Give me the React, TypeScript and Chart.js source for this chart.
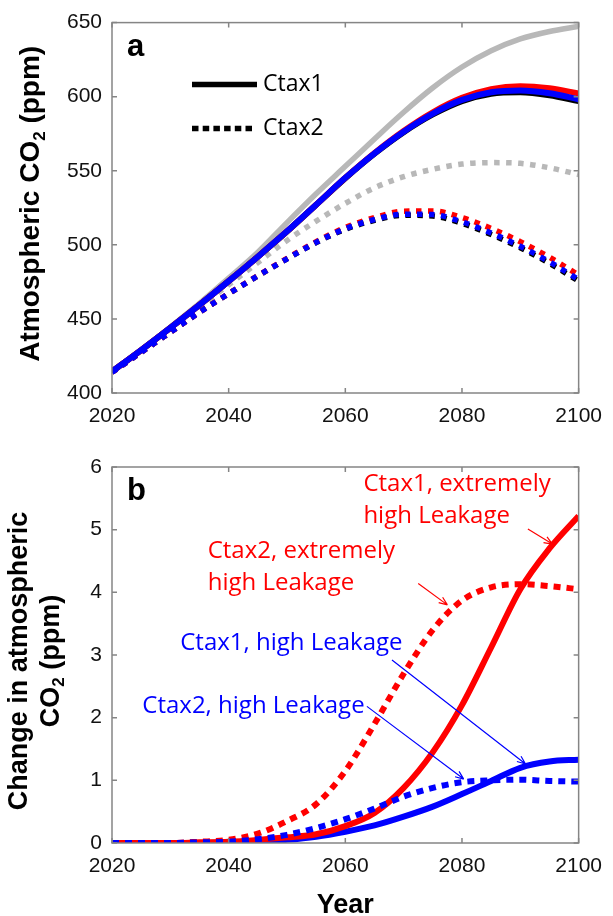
import React, { useEffect, useRef } from 'react';
import { Chart, registerables } from 'chart.js';

Chart.register(...registerables);

// ---------- data ----------
const YEARS = [2020, 2025, 2030, 2035, 2040, 2045, 2050, 2055, 2060, 2065, 2070, 2075, 2080, 2085, 2090, 2095, 2100];
const X_TICKS = [2020, 2040, 2060, 2080, 2100];
const A_Y_TICKS = [400, 450, 500, 550, 600, 650];
const B_Y_TICKS = [0, 1, 2, 3, 4, 5, 6];

// Panel a: atmospheric CO2 (ppm)
const A_GRAY_CTAX1 = [414.5, 429, 444.5, 460.5, 477.5, 495, 515, 534.5, 553, 571.5, 589.5, 606, 620, 631, 639, 644, 647.5];
const A_BLACK_CTAX1 = [414.5, 429, 444, 459.5, 475.5, 492, 509, 527, 545, 561.5, 576, 588, 597, 602, 603, 601, 597];
const A_BLUE_CTAX1 = [414.5, 429, 444, 459.5, 475.5, 492, 509.1, 527.1, 545.2, 561.8, 576.4, 588.6, 597.8, 603, 604.2, 602.3, 598.3];
const A_RED_CTAX1 = [414.5, 429, 444, 459.5, 475.5, 492, 509.1, 527.1, 545.3, 562, 576.9, 589.5, 599.2, 605.1, 607.1, 605.7, 602.2];
const A_GRAY_CTAX2 = [414.5, 428.5, 443, 458, 473, 488, 503, 516, 528, 538.5, 546, 551, 554.5, 555.5, 555, 552, 547.5];
const A_BLACK_CTAX2 = [414, 427.5, 441, 454.5, 467, 479, 490.5, 501.5, 510.5, 516.5, 520, 519.5, 514.5, 507, 498, 487.5, 475.5];
const A_BLUE_CTAX2 = [414, 427.5, 441, 454.5, 467, 479.1, 490.6, 501.7, 510.9, 517.1, 520.7, 520.4, 515.5, 508, 499, 488.5, 476.5];
const A_RED_CTAX2 = [414, 427.5, 441, 454.5, 467.1, 479.2, 490.9, 502.1, 511.7, 518.4, 522.7, 522.9, 518.4, 511.1, 502.1, 491.6, 479.6];

// Panel b: change in atmospheric CO2 (ppm)
const B_RED_CTAX1 = [0, 0, 0, 0.01, 0.02, 0.05, 0.09, 0.14, 0.27, 0.48, 0.88, 1.45, 2.2, 3.12, 4.05, 4.7, 5.22];
const B_RED_CTAX2 = [0, 0, 0, 0.02, 0.05, 0.15, 0.35, 0.62, 1.15, 1.9, 2.7, 3.4, 3.87, 4.08, 4.13, 4.1, 4.05];
const B_BLUE_CTAX1 = [0, 0, 0, 0, 0.01, 0.02, 0.05, 0.1, 0.18, 0.28, 0.42, 0.58, 0.78, 0.99, 1.2, 1.3, 1.33];
const B_BLUE_CTAX2 = [0, 0, 0, 0.01, 0.02, 0.06, 0.13, 0.24, 0.38, 0.55, 0.74, 0.88, 0.97, 1.0, 1.01, 0.99, 0.98];

// annotation texts (anchored in data units: year, ppm)
const B_LABELS = [
  { text: 'Ctax1, extremely', x: 2063.1, y: 5.72, color: '#ff0000' },
  { text: 'high Leakage', x: 2063.1, y: 5.22, color: '#ff0000' },
  { text: 'Ctax2, extremely', x: 2036.4, y: 4.66, color: '#ff0000' },
  { text: 'high Leakage', x: 2036.4, y: 4.15, color: '#ff0000' },
  { text: 'Ctax1, high Leakage', x: 2031.7, y: 3.19, color: '#0000ff' },
  { text: 'Ctax2, high Leakage', x: 2025.2, y: 2.19, color: '#0000ff' },
];
const B_ARROWS = [
  { x0: 2091.3, y0: 5.01, x1: 2095.5, y1: 4.77, color: '#ff0000' },
  { x0: 2072.5, y0: 4.14, x1: 2077.5, y1: 3.8, color: '#ff0000' },
  { x0: 2068.0, y0: 2.92, x1: 2090.9, y1: 1.26, color: '#0000ff' },
  { x0: 2063.7, y0: 2.18, x1: 2080.3, y1: 1.02, color: '#0000ff' },
];

const RED = '#ff0000';
const BLUE = '#0000ff';
const GRAY = '#b8b8b8';
const BLACK = '#000000';
const AXIS = '#858585';
const TICK_FONT = "'Liberation Sans', Arial, sans-serif";
const NOTE_FONT = "'Open Sans', 'Noto Sans', sans-serif";

const pts = (arr: number[]) => YEARS.map((x, i) => ({ x, y: arr[i] }));

function ds(label: string, arr: number[], color: string, dotted: boolean, order: number, width: number, dash: number[]) {
  return {
    label,
    data: pts(arr),
    borderColor: color,
    backgroundColor: color,
    borderWidth: width,
    borderDash: dotted ? dash : [],
    borderCapStyle: 'butt',
    borderJoinStyle: 'round',
    pointRadius: 0,
    cubicInterpolationMode: 'monotone',
    fill: false,
    order,
    clip: 0,
  };
}

function framePlugin(yTicks: number[]) {
  return {
    id: 'frame',
    afterDatasetsDraw(chart: any) {
      const { ctx, chartArea: a, scales } = chart;
      const x = scales.x, y = scales.y;
      ctx.save();
      ctx.strokeStyle = AXIS;
      ctx.lineWidth = 1.5;
      ctx.setLineDash([]);
      ctx.strokeRect(a.left, a.top, a.right - a.left, a.bottom - a.top);
      ctx.beginPath();
      const L = 5;
      for (const v of X_TICKS) {
        const p = x.getPixelForValue(v);
        ctx.moveTo(p, a.bottom); ctx.lineTo(p, a.bottom - L);
        ctx.moveTo(p, a.top); ctx.lineTo(p, a.top + L);
      }
      for (const v of yTicks) {
        const p = y.getPixelForValue(v);
        ctx.moveTo(a.left, p); ctx.lineTo(a.left + L, p);
        ctx.moveTo(a.right, p); ctx.lineTo(a.right - L, p);
      }
      ctx.stroke();
      ctx.restore();
    },
  };
}

// rotated title with subscript "2" in CO2
function drawRotatedCO2(ctx: any, pre: string, post: string, cx: number, cy: number, size: number) {
  ctx.save();
  ctx.translate(cx, cy);
  ctx.rotate(-Math.PI / 2);
  const big = `bold ${size}px ${TICK_FONT}`;
  const small = `bold ${Math.round(size * 0.62)}px ${TICK_FONT}`;
  ctx.font = big;
  const w1 = ctx.measureText(pre).width;
  const w3 = ctx.measureText(post).width;
  ctx.font = small;
  const w2 = ctx.measureText('2').width;
  let x0 = -(w1 + w2 + w3) / 2;
  ctx.fillStyle = '#000';
  ctx.textBaseline = 'alphabetic';
  ctx.textAlign = 'left';
  ctx.font = big;
  ctx.fillText(pre, x0, 0);
  x0 += w1;
  ctx.font = small;
  ctx.fillText('2', x0, size * 0.2);
  x0 += w2;
  ctx.font = big;
  ctx.fillText(post, x0, 0);
  ctx.restore();
}

const panelAPlugin = {
  id: 'panelA',
  afterDraw(chart: any) {
    const { ctx, chartArea: a } = chart;
    ctx.save();
    // panel letter
    ctx.fillStyle = '#000';
    ctx.font = `bold 31px ${TICK_FONT}`;
    ctx.textBaseline = 'alphabetic';
    ctx.textAlign = 'left';
    ctx.fillText('a', a.left + 15, a.top + 33);
    // legend
    const lx0 = a.left + 80, lx1 = a.left + 145;
    const ly1 = a.top + 62, ly2 = a.top + 106;
    ctx.strokeStyle = BLACK;
    ctx.lineWidth = 5.5;
    ctx.lineCap = 'butt';
    ctx.beginPath(); ctx.moveTo(lx0, ly1); ctx.lineTo(lx1, ly1); ctx.stroke();
    ctx.setLineDash([6.5, 4.2]);
    ctx.beginPath(); ctx.moveTo(lx0, ly2); ctx.lineTo(lx1 - 4, ly2); ctx.stroke();
    ctx.setLineDash([]);
    ctx.font = `23px ${NOTE_FONT}`;
    ctx.textBaseline = 'middle';
    ctx.fillText('Ctax1', a.left + 151, ly1);
    ctx.fillText('Ctax2', a.left + 151, ly2);
    ctx.restore();
    drawRotatedCO2(ctx, 'Atmospheric CO', ' (ppm)', 39, (a.top + a.bottom) / 2 - 4, 28);
  },
};

const panelBPlugin = {
  id: 'panelB',
  afterDraw(chart: any) {
    const { ctx, chartArea: a, scales } = chart;
    const x = scales.x, y = scales.y;
    ctx.save();
    ctx.fillStyle = '#000';
    ctx.font = `bold 31px ${TICK_FONT}`;
    ctx.textBaseline = 'alphabetic';
    ctx.textAlign = 'left';
    ctx.fillText('b', a.left + 15, a.top + 33);
    // annotations
    ctx.font = `24px ${NOTE_FONT}`;
    ctx.textBaseline = 'middle';
    for (const l of B_LABELS) {
      ctx.fillStyle = l.color;
      ctx.fillText(l.text, x.getPixelForValue(l.x), y.getPixelForValue(l.y));
    }
    for (const r of B_ARROWS) {
      const px0 = x.getPixelForValue(r.x0), py0 = y.getPixelForValue(r.y0);
      const px1 = x.getPixelForValue(r.x1), py1 = y.getPixelForValue(r.y1);
      const ang = Math.atan2(py1 - py0, px1 - px0);
      ctx.strokeStyle = r.color;
      ctx.lineWidth = 1.2;
      ctx.beginPath();
      ctx.moveTo(px0, py0); ctx.lineTo(px1, py1);
      const h = 9, s = 0.38;
      ctx.moveTo(px1, py1);
      ctx.lineTo(px1 - h * Math.cos(ang - s), py1 - h * Math.sin(ang - s));
      ctx.moveTo(px1, py1);
      ctx.lineTo(px1 - h * Math.cos(ang + s), py1 - h * Math.sin(ang + s));
      ctx.stroke();
    }
    // x title
    ctx.fillStyle = '#000';
    ctx.font = `bold 27px ${TICK_FONT}`;
    ctx.textAlign = 'center';
    ctx.textBaseline = 'alphabetic';
    ctx.fillText('Year', (a.left + a.right) / 2, a.bottom + 70);
    // y title line 1
    const cy = (a.top + a.bottom) / 2 + 6;
    ctx.save();
    ctx.translate(27, cy);
    ctx.rotate(-Math.PI / 2);
    ctx.fillText('Change in atmospheric', 0, 0);
    ctx.restore();
    ctx.restore();
    drawRotatedCO2(ctx, 'CO', ' (ppm)', 59, cy, 27);
  },
};

function scalesFor(yMin: number, yMax: number, yTicks: number[], xAxisHeight: number) {
  return {
    x: {
      type: 'linear',
      min: 2020,
      max: 2100,
      grid: { display: false, drawTicks: false },
      border: { display: false },
      afterBuildTicks: (s: any) => { s.ticks = X_TICKS.map((v) => ({ value: v })); },
      afterFit: (s: any) => { s.height = xAxisHeight; },
      ticks: {
        color: '#111',
        font: { family: TICK_FONT, size: 21 },
        padding: 11,
        maxRotation: 0,
        autoSkip: false,
        callback: (v: any) => String(v),
      },
    },
    y: {
      type: 'linear',
      min: yMin,
      max: yMax,
      grid: { display: false, drawTicks: false },
      border: { display: false },
      afterBuildTicks: (s: any) => { s.ticks = yTicks.map((v) => ({ value: v })); },
      afterFit: (s: any) => { s.width = 112; },
      ticks: {
        color: '#111',
        font: { family: TICK_FONT, size: 21 },
        padding: 10,
        autoSkip: false,
        callback: (v: any) => String(v),
      },
    },
  };
}

export default function App() {
  const refA = useRef<HTMLCanvasElement | null>(null);
  const refB = useRef<HTMLCanvasElement | null>(null);

  useEffect(() => {
    const dashA = [5.5, 6.5];
    const chartA = new Chart(refA.current as HTMLCanvasElement, {
      type: 'line',
      data: {
        datasets: [
          ds('Ctax1 high leakage', A_BLUE_CTAX1, BLUE, false, 0, 6, dashA),
          ds('Ctax2 high leakage', A_BLUE_CTAX2, BLUE, true, 1, 5.5, dashA),
          ds('Ctax1 extremely high leakage', A_RED_CTAX1, RED, false, 2, 6, dashA),
          ds('Ctax2 extremely high leakage', A_RED_CTAX2, RED, true, 3, 5.5, dashA),
          ds('Ctax1', A_BLACK_CTAX1, BLACK, false, 4, 6, dashA),
          ds('Ctax2', A_BLACK_CTAX2, BLACK, true, 5, 5.5, dashA),
          ds('Ctax1 baseline', A_GRAY_CTAX1, GRAY, false, 6, 5.5, dashA),
          ds('Ctax2 baseline', A_GRAY_CTAX2, GRAY, true, 7, 5.5, dashA),
        ] as any,
      },
      options: {
        responsive: false,
        animation: false,
        events: [],
        layout: { padding: { left: 0, right: 24, top: 17, bottom: 0 } },
        plugins: { legend: { display: false }, tooltip: { enabled: false } },
        scales: scalesFor(400, 650, A_Y_TICKS, 47) as any,
      },
      plugins: [framePlugin(A_Y_TICKS), panelAPlugin],
    });

    const dashB = [7, 6];
    const chartB = new Chart(refB.current as HTMLCanvasElement, {
      type: 'line',
      data: {
        datasets: [
          ds('Ctax2, high Leakage', B_BLUE_CTAX2, BLUE, true, 0, 6, dashB),
          ds('Ctax1, extremely high Leakage', B_RED_CTAX1, RED, false, 1, 6, dashB),
          ds('Ctax2, extremely high Leakage', B_RED_CTAX2, RED, true, 2, 6, dashB),
          ds('Ctax1, high Leakage', B_BLUE_CTAX1, BLUE, false, 3, 6, dashB),
        ] as any,
      },
      options: {
        responsive: false,
        animation: false,
        events: [],
        layout: { padding: { left: 0, right: 24, top: 27, bottom: 0 } },
        plugins: { legend: { display: false }, tooltip: { enabled: false } },
        scales: scalesFor(0, 6, B_Y_TICKS, 73) as any,
      },
      plugins: [framePlugin(B_Y_TICKS), panelBPlugin],
    });

    return () => {
      chartA.destroy();
      chartB.destroy();
    };
  }, []);

  return (
    <div style={{ position: 'absolute', left: 0, top: 0, width: 613, height: 916, background: '#fff' }}>
      <canvas ref={refA} width={613} height={440} style={{ position: 'absolute', left: 0, top: 0, width: 613, height: 440 }} />
      <canvas ref={refB} width={613} height={476} style={{ position: 'absolute', left: 0, top: 440, width: 613, height: 476 }} />
    </div>
  );
}
